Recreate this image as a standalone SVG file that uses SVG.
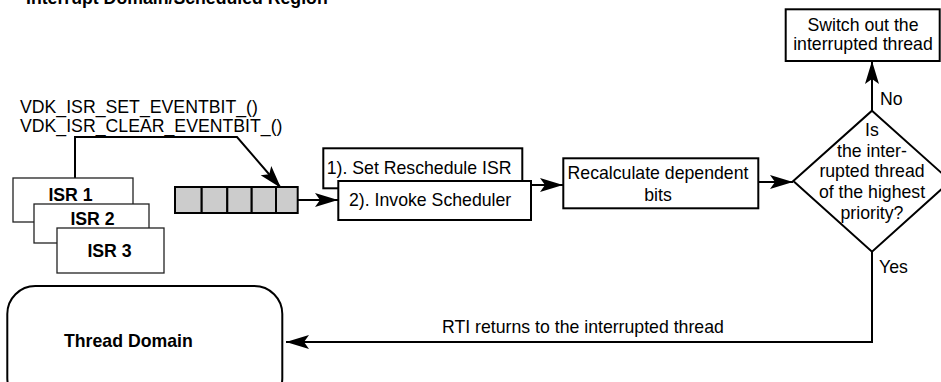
<svg xmlns="http://www.w3.org/2000/svg" width="941" height="382" viewBox="0 0 941 382">
<defs>
<marker id="ah" markerUnits="userSpaceOnUse" markerWidth="26" markerHeight="16" refX="23" refY="7" orient="auto">
<path d="M0,0 L23,7 L0,14 L5,7 Z" fill="#000"/>
</marker>
<style>
text{font-family:"Liberation Sans",Arial,Helvetica,sans-serif;font-size:17.7px;fill:#000}
.b{font-weight:bold}
.m{text-anchor:middle}
.box{fill:#fff;stroke:#000;stroke-width:2}
.thin{fill:#fff;stroke:#222;stroke-width:1.3}
.cell{fill:#cccccc;stroke:#000;stroke-width:2}
.ln{fill:none;stroke:#000;stroke-width:2}
.arr{fill:none;stroke:#000;stroke-width:2;marker-end:url(#ah)}
</style>
</defs>
<rect width="941" height="382" fill="#fff"/>
<text class="b" x="26" y="4">Interrupt Domain/Scheduled Region</text>
<g id="label-vdk">
<text x="20" y="113">VDK_ISR_SET_EVENTBIT_()</text>
<text x="20" y="132">VDK_ISR_CLEAR_EVENTBIT_()</text>
</g>
<g id="connectors">
<path class="arr" d="M75,178 V137 H237 L281,188"/>
<path class="arr" d="M298,200 H338"/>
<path class="arr" d="M531,185 H563"/>
<path class="arr" d="M758,182 H793"/>
<path class="arr" d="M872,111 V61"/>
<path class="arr" d="M872,252 V342 H286"/>
<text x="880" y="105">No</text>
<text x="879" y="273">Yes</text>
<text x="442" y="333">RTI returns to the interrupted thread</text>
</g>
<g id="isr1">
<rect class="thin" x="13" y="178" width="120" height="44"/>
<text class="b m" x="70.5" y="201">ISR 1</text>
</g>
<g id="isr2">
<rect class="thin" x="34" y="204" width="115" height="39"/>
<text class="b m" x="92.5" y="225">ISR 2</text>
</g>
<g id="isr3">
<rect class="thin" x="57" y="228" width="107" height="45"/>
<text class="b m" x="109.5" y="257">ISR 3</text>
</g>
<g id="queue">
<rect class="cell" x="175" y="187" width="26.7" height="26"/>
<rect class="cell" x="201.7" y="187" width="25.6" height="26"/>
<rect class="cell" x="227.3" y="187" width="24.4" height="26"/>
<rect class="cell" x="251.7" y="187" width="24.3" height="26"/>
<rect class="cell" x="276" y="187" width="21.7" height="26"/>
</g>
<g id="set-reschedule">
<rect class="box" x="323.3" y="148.3" width="199" height="40"/>
<text x="326.7" y="174">1). Set Reschedule ISR</text>
</g>
<g id="invoke-scheduler">
<rect class="box" x="338.3" y="181" width="192.7" height="39"/>
<text x="349" y="206">2). Invoke Scheduler</text>
</g>
<g id="recalculate">
<rect class="box" x="563.3" y="158.3" width="195" height="50"/>
<text class="m" x="658" y="179.3">Recalculate dependent</text>
<text class="m" x="658" y="201">bits</text>
</g>
<g id="decision">
<path class="box" d="M872,110.7 L950.5,181 L872,251.7 L793.3,181 Z"/>
<text class="m" x="872" y="136">Is</text>
<text class="m" x="872" y="156.7">the inter-</text>
<text class="m" x="872" y="177.3">rupted thread</text>
<text class="m" x="872" y="197.7">of the highest</text>
<text class="m" x="872" y="219">priority?</text>
</g>
<g id="switch-out">
<rect class="box" x="785.7" y="9.3" width="154" height="51.7"/>
<text class="m" x="863" y="30.7">Switch out the</text>
<text class="m" x="863" y="50">interrupted thread</text>
</g>
<g id="thread-domain">
<rect class="box" x="7.3" y="286" width="275" height="120" rx="28" ry="28"/>
<text class="b" x="64" y="347">Thread Domain</text>
</g>
</svg>
